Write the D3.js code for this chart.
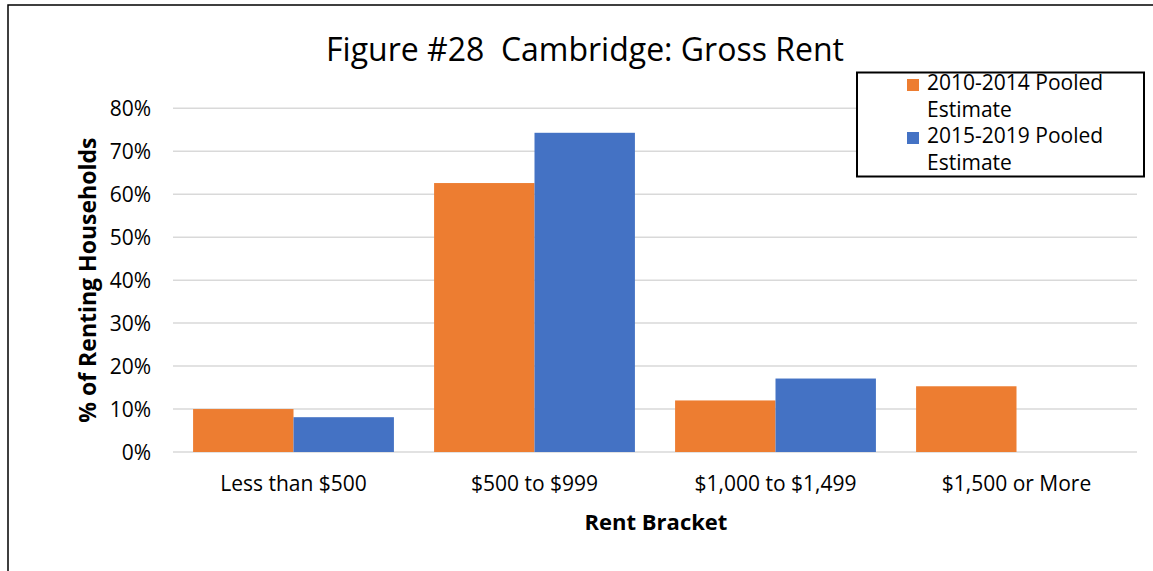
<!DOCTYPE html>
<html>
<head>
<meta charset="utf-8">
<script src="https://cdn.jsdelivr.net/npm/d3@7"></script>
<style>
  body { margin: 0; background: #fff; }
  svg { display: block; font-family: "Open Sans", Lato, sans-serif; }
</style>
</head>
<body>
<svg id="chart" width="1153" height="571"></svg>
<script>
// Chart data
const brackets = ['Less than $500', '$500 to $999', '$1,000 to $1,499', '$1,500 or More'];
const seriesNames = ['2010-2014 Pooled Estimate', '2015-2019 Pooled Estimate'];
const pooled2010 = [10.0, 62.6, 12.0, 15.3];
const pooled2015 = [8.1, 74.3, 17.1, 0];
const yTicks = [0, 10, 20, 30, 40, 50, 60, 70, 80];
const colors = ['#ED7D31', '#4472C4'];

const svg = d3.select('#chart');

// outer frame (runs off the right and bottom edges)
svg.append('rect')
    .attr('x', 8).attr('y', 5)
    .attr('width', 1300).attr('height', 700)
    .attr('fill', 'none')
    .attr('stroke', '#000')
    .attr('stroke-width', 1.5);

const plot = { left: 173, right: 1137, top: 108.3, bottom: 452 };

const x0 = d3.scaleBand().domain(brackets).range([plot.left, plot.right]);
const x1 = d3.scaleBand().domain(seriesNames).range([0, x0.bandwidth()]).paddingOuter(0.2);
const y = d3.scaleLinear().domain([0, 80]).range([plot.bottom, plot.top]);

// gridlines
svg.append('g')
    .selectAll('line')
    .data(yTicks)
    .join('line')
    .attr('x1', plot.left).attr('x2', plot.right)
    .attr('y1', d => y(d)).attr('y2', d => y(d))
    .attr('stroke', '#D9D9D9')
    .attr('stroke-width', 1.5);

// y tick labels
const yAxis = svg.append('g')
    .attr('transform', `translate(${plot.left - 22},0)`)
    .call(d3.axisLeft(y).tickValues(yTicks).tickFormat(d => d + '%').tickSize(0));
yAxis.select('.domain').remove();
yAxis.selectAll('text')
    .attr('x', 0)
    .attr('dy', '0.35em')
    .style('font-family', '"Open Sans", sans-serif')
    .style('font-size', '21px')
    .attr('fill', '#000');

// bars
const table = brackets.map((b, i) => ({ bracket: b, values: [pooled2010[i], pooled2015[i]] }));
svg.append('g')
    .selectAll('g')
    .data(table)
    .join('g')
    .attr('transform', d => `translate(${x0(d.bracket)},0)`)
    .selectAll('rect')
    .data(d => d.values.map((v, j) => ({ key: seriesNames[j], value: v, j })))
    .join('rect')
    .attr('x', d => x1(d.key))
    .attr('width', x1.bandwidth())
    .attr('y', d => y(d.value))
    .attr('height', d => y(0) - y(d.value))
    .attr('fill', d => colors[d.j]);

// x tick labels
const xAxis = svg.append('g')
    .attr('transform', `translate(0,${plot.bottom})`)
    .call(d3.axisBottom(x0).tickSize(0));
xAxis.select('.domain').remove();
xAxis.selectAll('text')
    .attr('y', 39)
    .attr('dy', 0)
    .style('font-family', '"Open Sans", sans-serif')
    .style('font-size', '21px')
    .attr('fill', '#000');

// title
svg.append('text')
    .attr('x', 585).attr('y', 61)
    .attr('text-anchor', 'middle')
    .style('font-size', '32px')
    .attr('xml:space', 'preserve')
    .text('Figure #28  Cambridge: Gross Rent');

// axis titles
svg.append('text')
    .attr('x', 656).attr('y', 530)
    .attr('text-anchor', 'middle')
    .style('font-size', '22px')
    .style('font-weight', 'bold')
    .text('Rent Bracket');

svg.append('text')
    .attr('transform', `translate(96,${(plot.top + plot.bottom) / 2 + 0}) rotate(-90)`)
    .attr('text-anchor', 'middle')
    .style('font-size', '23px')
    .style('font-weight', 'bold')
    .text('% of Renting Households');

// legend
const legend = svg.append('g');
legend.append('rect')
    .attr('x', 857).attr('y', 72.5)
    .attr('width', 287).attr('height', 104)
    .attr('fill', '#fff')
    .attr('stroke', '#000')
    .attr('stroke-width', 2);

seriesNames.forEach((name, i) => {
    const top = 79 + i * 53;
    const parts = [name.replace(' Estimate', ''), 'Estimate'];
    legend.append('rect')
        .attr('x', 907).attr('y', top)
        .attr('width', 12).attr('height', 12)
        .attr('fill', colors[i]);
    legend.append('text')
        .attr('x', 927).attr('y', top + 11)
        .style('font-size', '21px')
        .text(parts[0]);
    legend.append('text')
        .attr('x', 927).attr('y', top + 38)
        .style('font-size', '21px')
        .text(parts[1]);
});
</script>
</body>
</html>
